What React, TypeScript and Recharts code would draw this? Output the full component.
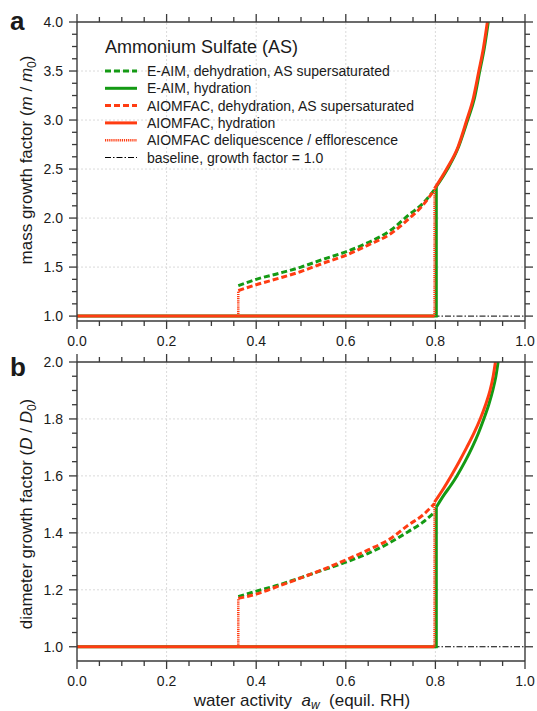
import React from "react";
import { LineChart, Line, XAxis, YAxis, ReferenceLine } from "recharts";

const GREEN = "#149a14";
const RED = "#ff3c12";
const AXIS = "#3a3a3a";
const TXT = "#1a1a1a";
const FONT = '"Liberation Sans", Arial, Helvetica, sans-serif';

// axis ticks (minor + labelled)
const X_TICKS = [0, 0.05, 0.1, 0.15, 0.2, 0.25, 0.3, 0.35, 0.4, 0.45, 0.5, 0.55, 0.6, 0.65, 0.7, 0.75, 0.8, 0.85, 0.9, 0.95, 1];
const X_LABELS = [0, 0.2, 0.4, 0.6, 0.8, 1];
const A_Y_TICKS = [1, 1.125, 1.25, 1.375, 1.5, 1.625, 1.75, 1.875, 2, 2.125, 2.25, 2.375, 2.5, 2.625, 2.75, 2.875, 3, 3.125, 3.25, 3.375, 3.5, 3.625, 3.75, 3.875, 4];
const A_Y_LABELS = [1, 1.5, 2, 2.5, 3, 3.5, 4];
const B_Y_TICKS = [1, 1.05, 1.1, 1.15, 1.2, 1.25, 1.3, 1.35, 1.4, 1.45, 1.5, 1.55, 1.6, 1.65, 1.7, 1.75, 1.8, 1.85, 1.9, 1.95, 2];
const B_Y_LABELS = [1, 1.2, 1.4, 1.6, 1.8, 2];

// dehydration branch (supersaturated), shared water activities
const AW_DEHYD = [0.36, 0.4, 0.45, 0.5, 0.55, 0.6, 0.65, 0.7, 0.74, 0.77, 0.798];

// panel a: mass growth factor
const A_EAIM_DEHYD = [1.31, 1.375, 1.435, 1.5, 1.58, 1.655, 1.75, 1.875, 2.03, 2.14, 2.29];
const A_AIOM_DEHYD = [1.26, 1.32, 1.385, 1.455, 1.54, 1.62, 1.725, 1.84, 1.99, 2.12, 2.29];
const A_EAIM_HYD_X = [0.802, 0.827, 0.852, 0.872, 0.887, 0.899, 0.909, 0.918];
const A_EAIM_HYD_Y = [2.32, 2.5, 2.73, 3.0, 3.22, 3.5, 3.73, 4.0];
const A_AIOM_HYD_X = [0.798, 0.825, 0.85, 0.87, 0.885, 0.897, 0.907, 0.916];
const A_AIOM_HYD_Y = [2.3, 2.5, 2.72, 3.0, 3.23, 3.5, 3.73, 4.0];
const A_EAIM_STEP_X = [0, 0.802, 0.802];
const A_EAIM_STEP_Y = [1, 1, 2.32];
const A_EFFL_X = [0.36, 0.36];
const A_EFFL_Y = [1, 1.255];
const A_DELI_X = [0.798, 0.798];
const A_DELI_Y = [1, 2.3];

// panel b: diameter growth factor
const B_EAIM_DEHYD = [1.176, 1.195, 1.217, 1.243, 1.27, 1.297, 1.328, 1.367, 1.405, 1.435, 1.472];
const B_AIOM_DEHYD = [1.17, 1.185, 1.213, 1.242, 1.272, 1.305, 1.34, 1.38, 1.428, 1.46, 1.503];
const B_EAIM_HYD_X = [0.802, 0.82, 0.835, 0.848, 0.866, 0.882, 0.896, 0.908, 0.919, 0.928, 0.935, 0.94];
const B_EAIM_HYD_Y = [1.49, 1.535, 1.568, 1.6, 1.65, 1.7, 1.75, 1.8, 1.85, 1.9, 1.95, 2.0];
const B_AIOM_HYD_X = [0.798, 0.815, 0.835, 0.853, 0.87, 0.886, 0.9, 0.912, 0.922, 0.929, 0.934];
const B_AIOM_HYD_Y = [1.508, 1.548, 1.6, 1.65, 1.7, 1.75, 1.8, 1.85, 1.9, 1.95, 2.0];
const B_EAIM_STEP_X = [0, 0.802, 0.802];
const B_EAIM_STEP_Y = [1, 1, 1.49];
const B_EFFL_X = [0.36, 0.36];
const B_EFFL_Y = [1, 1.168];
const B_DELI_X = [0.798, 0.798];
const B_DELI_Y = [1, 1.505];

const AIOM_FLAT_X = [0, 0.798];
const AIOM_FLAT_Y = [1, 1];
const BASE_X = [0, 1];
const BASE_Y = [1, 1];

const pts = (xs: number[], ys: number[]) => xs.map((x, i) => ({ x, y: ys[i] }));

const STYLE = {
  eaimDehyd: { stroke: GREEN, strokeWidth: 3, strokeDasharray: "6 3" },
  eaimHyd: { stroke: GREEN, strokeWidth: 3 },
  aiomDehyd: { stroke: RED, strokeWidth: 3, strokeDasharray: "6 3" },
  aiomHyd: { stroke: RED, strokeWidth: 3 },
  aiomDots: { stroke: RED, strokeWidth: 2.5, strokeDasharray: "1.2 0.9" },
  base: { stroke: "#000", strokeWidth: 1, strokeDasharray: "6 2 1.5 2" },
};

type Series = { data: { x: number; y: number }[]; style: any; curve?: boolean };

const isIn = (v: number, list: number[]) => list.some((l) => Math.abs(l - v) < 1e-6);

const MINOR = 5;
const MAJOR = 8;

// every tick (mark + optional label) is drawn here; x, y sit on the axis line
const makeTick = (side: string, labels: number[]) => (props: any) => {
  const x = Number(props.x);
  const y = Number(props.y);
  const v = props.payload.value;
  const major = isIn(v, labels);
  const len = major ? MAJOR : MINOR;
  const w = 1.3;
  let mark;
  if (side === "bottom") mark = <rect x={x - w / 2} y={y} width={w} height={len} fill={AXIS} />;
  else if (side === "top") mark = <rect x={x - w / 2} y={y - len} width={w} height={len} fill={AXIS} />;
  else if (side === "right") mark = <rect x={x} y={y - w / 2} width={len} height={w} fill={AXIS} />;
  else mark = <rect x={x - len} y={y - w / 2} width={len} height={w} fill={AXIS} />;
  return (
    <g>
      {mark}
      {major && side === "bottom" && (
        <text x={x} y={y + 25} textAnchor="middle" fontSize={14} fill={TXT} fontFamily={FONT}>
          {v.toFixed(1)}
        </text>
      )}
      {major && side === "left" && (
        <text x={x - 14} y={y + 5} textAnchor="end" fontSize={14} fill={TXT} fontFamily={FONT}>
          {v.toFixed(1)}
        </text>
      )}
    </g>
  );
};

const Panel = ({ series, yDomain, yTicks, yLabels, gridY }: any) => {
  const common = {
    tickSize: 0,
    tickMargin: 0,
    tickLine: false,
    axisLine: { stroke: AXIS, strokeWidth: 1.4 },
    interval: 0 as const,
    allowDataOverflow: true,
  };
  return (
    <LineChart width={537} height={360} margin={{ top: 21, right: 11, bottom: 38, left: 76 }}>
      <XAxis xAxisId="b" type="number" dataKey="x" domain={[0, 1]} ticks={X_TICKS} height={1} tick={makeTick("bottom", X_LABELS)} {...common} />
      <XAxis xAxisId="t" orientation="top" type="number" dataKey="x" domain={[0, 1]} ticks={X_TICKS} height={1} tick={makeTick("top", X_LABELS)} {...common} />
      <YAxis yAxisId="l" type="number" dataKey="y" domain={yDomain} ticks={yTicks} width={1} tick={makeTick("left", yLabels)} {...common} />
      <YAxis yAxisId="r" orientation="right" type="number" dataKey="y" domain={yDomain} ticks={yTicks} width={1} tick={makeTick("right", yLabels)} {...common} />
      {[0.2, 0.4, 0.6, 0.8].map((v) => (
        <ReferenceLine key={"gx" + v} xAxisId="b" yAxisId="l" x={v} stroke="#dadada" strokeDasharray="2 2" strokeWidth={1} />
      ))}
      {gridY.map((v: number) => (
        <ReferenceLine key={"gy" + v} xAxisId="b" yAxisId="l" y={v} stroke="#dadada" strokeDasharray="2 2" strokeWidth={1} />
      ))}
      {series.map((s: Series, i: number) => (
        <Line
          key={i}
          xAxisId="b"
          yAxisId="l"
          data={s.data}
          dataKey="y"
          type={s.curve ? "monotone" : "linear"}
          dot={false}
          activeDot={false}
          isAnimationActive={false}
          {...s.style}
        />
      ))}
    </LineChart>
  );
};

const seriesA: Series[] = [
  { data: pts(BASE_X, BASE_Y), style: STYLE.base },
  { data: pts(AW_DEHYD, A_EAIM_DEHYD), style: STYLE.eaimDehyd, curve: true },
  { data: pts(AW_DEHYD, A_AIOM_DEHYD), style: STYLE.aiomDehyd, curve: true },
  { data: pts(A_EAIM_STEP_X, A_EAIM_STEP_Y), style: STYLE.eaimHyd },
  { data: pts(A_EAIM_HYD_X, A_EAIM_HYD_Y), style: STYLE.eaimHyd, curve: true },
  { data: pts(A_EFFL_X, A_EFFL_Y), style: STYLE.aiomDots },
  { data: pts(A_DELI_X, A_DELI_Y), style: STYLE.aiomDots },
  { data: pts(AIOM_FLAT_X, AIOM_FLAT_Y), style: STYLE.aiomHyd },
  { data: pts(A_AIOM_HYD_X, A_AIOM_HYD_Y), style: STYLE.aiomHyd, curve: true },
];

const seriesB: Series[] = [
  { data: pts(BASE_X, BASE_Y), style: STYLE.base },
  { data: pts(AW_DEHYD, B_EAIM_DEHYD), style: STYLE.eaimDehyd, curve: true },
  { data: pts(AW_DEHYD, B_AIOM_DEHYD), style: STYLE.aiomDehyd, curve: true },
  { data: pts(B_EAIM_STEP_X, B_EAIM_STEP_Y), style: STYLE.eaimHyd },
  { data: pts(B_EAIM_HYD_X, B_EAIM_HYD_Y), style: STYLE.eaimHyd, curve: true },
  { data: pts(B_EFFL_X, B_EFFL_Y), style: STYLE.aiomDots },
  { data: pts(B_DELI_X, B_DELI_Y), style: STYLE.aiomDots },
  { data: pts(AIOM_FLAT_X, AIOM_FLAT_Y), style: STYLE.aiomHyd },
  { data: pts(B_AIOM_HYD_X, B_AIOM_HYD_Y), style: STYLE.aiomHyd, curve: true },
];

const LEGEND = [
  { label: "E-AIM, dehydration, AS supersaturated", style: STYLE.eaimDehyd },
  { label: "E-AIM, hydration", style: STYLE.eaimHyd },
  { label: "AIOMFAC, dehydration, AS supersaturated", style: STYLE.aiomDehyd },
  { label: "AIOMFAC, hydration", style: STYLE.aiomHyd },
  { label: "AIOMFAC deliquescence / efflorescence", style: STYLE.aiomDots },
  { label: "baseline, growth factor = 1.0", style: STYLE.base },
];

export default function App() {
  return (
    <div style={{ position: "absolute", left: 0, top: 0, width: 537, height: 711, background: "#fff", overflow: "hidden" }}>
      <div style={{ position: "absolute", left: 0, top: 0 }}>
        <Panel series={seriesA} yDomain={[0.95, 4]} yTicks={A_Y_TICKS} yLabels={A_Y_LABELS} gridY={[1.5, 2, 2.5, 3, 3.5]} />
      </div>
      <div style={{ position: "absolute", left: 0, top: 340 }}>
        <Panel series={seriesB} yDomain={[0.95, 2]} yTicks={B_Y_TICKS} yLabels={B_Y_LABELS} gridY={[1.2, 1.4, 1.6, 1.8]} />
      </div>
      <svg width={537} height={711} style={{ position: "absolute", left: 0, top: 0, pointerEvents: "none" }} fontFamily={FONT} fill={TXT}>
        <text x={10} y={30} fontSize={26} fontWeight="bold">a</text>
        <text x={10} y={376} fontSize={26} fontWeight="bold">b</text>
        <text transform="translate(32,160) rotate(-90)" textAnchor="middle" fontSize={17} style={{ whiteSpace: "pre" }}>
          mass growth factor (<tspan fontStyle="italic">m</tspan> / <tspan fontStyle="italic">m</tspan>
          <tspan fontSize={12} dy={4}>0</tspan>
          <tspan dy={-4}>)</tspan>
        </text>
        <text transform="translate(32,514) rotate(-90)" textAnchor="middle" fontSize={17} style={{ whiteSpace: "pre" }}>
          diameter growth factor (<tspan fontStyle="italic">D</tspan> / <tspan fontStyle="italic">D</tspan>
          <tspan fontSize={12} dy={4}>0</tspan>
          <tspan dy={-4}>)</tspan>
        </text>
        <text x={302} y={706} textAnchor="middle" fontSize={17} style={{ whiteSpace: "pre" }}>
          {"water activity  "}
          <tspan fontStyle="italic">a</tspan>
          <tspan fontStyle="italic" fontSize={12} dy={3}>w</tspan>
          <tspan dy={-3}>{"  (equil. RH)"}</tspan>
        </text>
        <text x={105} y={53} fontSize={18}>Ammonium Sulfate (AS)</text>
        {LEGEND.map((e, i) => {
          const y = 71 + i * 17.3;
          return (
            <g key={e.label}>
              <line x1={105} x2={137} y1={y} y2={y} {...e.style} />
              <text x={147} y={y + 5} fontSize={14}>{e.label}</text>
            </g>
          );
        })}
      </svg>
    </div>
  );
}
